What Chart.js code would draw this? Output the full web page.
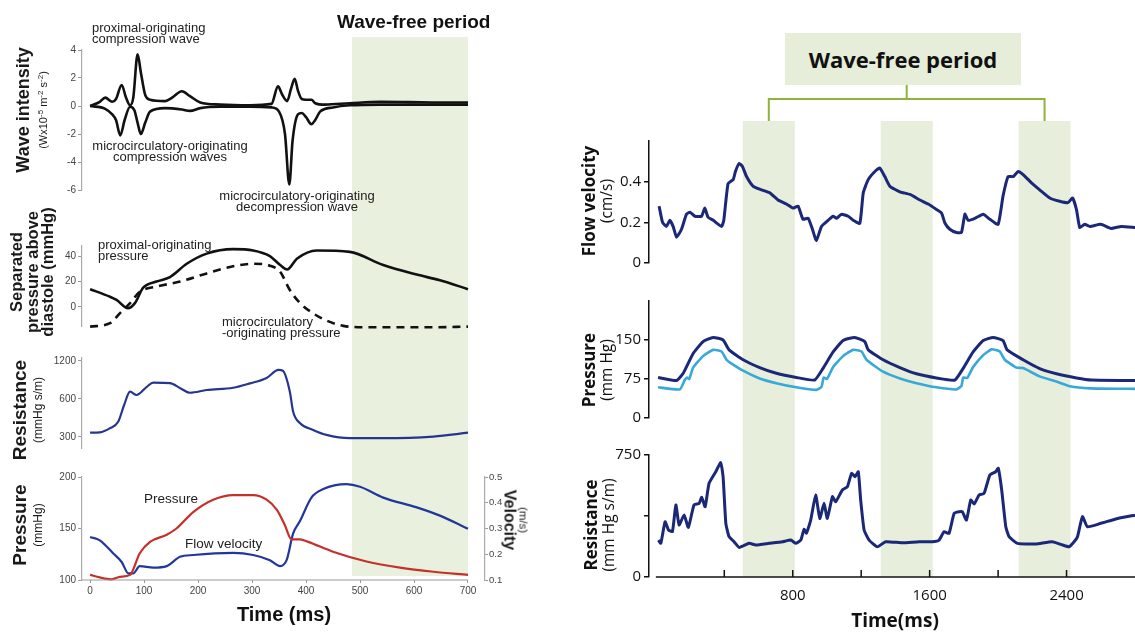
<!DOCTYPE html>
<html>
<head>
<meta charset="utf-8">
<script src="https://cdn.jsdelivr.net/npm/chart.js@4.4.0/dist/chart.umd.min.js"></script>
<style>
body { margin: 0; background: #fff; overflow: hidden; }
#fig { position: relative; width: 1135px; height: 632px; overflow: hidden; font-family: "Liberation Sans", Arial, sans-serif; color: #1a1a1a; }
canvas { position: absolute; }
.note { position: absolute; white-space: nowrap; font-size: 13px; line-height: 11px; color: #222; }
.rot { position: absolute; white-space: nowrap; text-align: center; transform: translate(-50%, -50%) rotate(-90deg); }
.rot90 { position: absolute; white-space: nowrap; text-align: center; transform: translate(-50%, -50%) rotate(90deg); }
.r { font-family: "Open Sans", sans-serif; color: #111; }
</style>
</head>
<body>
<div id="fig">
  <canvas id="lBand"></canvas>
  <canvas id="rBand"></canvas>
  <canvas id="l1"></canvas>
  <canvas id="l2"></canvas>
  <canvas id="l3"></canvas>
  <canvas id="l4"></canvas>
  <canvas id="r1"></canvas>
  <canvas id="r2"></canvas>
  <canvas id="r3"></canvas>

  <!-- left panel text -->
  <div class="note" style="left:337px;top:12px;font-size:19px;font-weight:bold;line-height:20px;color:#111">Wave-free period</div>
  <div class="note" style="left:92px;top:22px">proximal-originating<br>compression wave</div>
  <div class="note" style="left:170px;top:140px;transform:translateX(-50%);text-align:center">microcirculatory-originating<br>compression waves</div>
  <div class="note" style="left:297px;top:190px;transform:translateX(-50%);text-align:center">microcirculatory-originating<br>decompression wave</div>
  <div class="note" style="left:98px;top:239px">proximal-originating<br>pressure</div>
  <div class="note" style="left:222px;top:316px">microcirculatory<br>-originating pressure</div>
  <div class="note" style="left:144px;top:493px;font-size:13.5px">Pressure</div>
  <div class="note" style="left:185px;top:538px;font-size:13.5px">Flow velocity</div>
  <div class="note" style="left:284px;top:604px;transform:translateX(-50%);font-size:20px;font-weight:bold;line-height:20px;color:#111">Time (ms)</div>

  <div class="rot" style="left:33px;top:110px;line-height:16px"><b style="font-size:18px">Wave intensity</b><br><span style="font-size:11px">(Wx10<sup style="font-size:8px">-5</sup> m<sup style="font-size:8px">-2</sup> s<sup style="font-size:8px">-2</sup>)</span></div>
  <div class="rot" style="left:32px;top:272px;line-height:15.5px;font-size:16.5px;font-weight:bold">Separated<br>pressure above<br>diastole (mmHg)</div>
  <div class="rot" style="left:29px;top:410px;line-height:16px"><b style="font-size:19px">Resistance</b><br><span style="font-size:12px">(mmHg s/m)</span></div>
  <div class="rot" style="left:29px;top:525px;line-height:16px"><b style="font-size:19px">Pressure</b><br><span style="font-size:12px">(mmHg)</span></div>
  <div class="rot90" style="left:517px;top:520px;line-height:14px"><span style="font-size:11.5px">(m/s)</span><br><b style="font-size:16px">Velocity</b></div>

  <!-- right panel text -->
  <div class="r" style="position:absolute;left:785px;top:33px;width:236px;height:52px;background:#e6edd8;text-align:center;line-height:52px;font-size:22px;font-weight:bold">Wave-free period</div>
  <div class="rot r" style="left:597px;top:201px;line-height:17px"><b style="font-size:17px">Flow velocity</b><br><span style="font-size:15.5px">(cm/s)</span></div>
  <div class="rot r" style="left:597px;top:370px;line-height:17px"><b style="font-size:17px">Pressure</b><br><span style="font-size:15.5px">(mm Hg)</span></div>
  <div class="rot r" style="left:599px;top:525px;line-height:17px"><b style="font-size:17px">Resistance</b><br><span style="font-size:15.5px">(mm Hg s/m)</span></div>
  <div class="r" style="position:absolute;left:895px;top:609px;transform:translateX(-50%);font-size:19px;font-weight:bold;line-height:22px;white-space:nowrap">Time(ms)</div>
</div>

<script>
// ---- left panel data (time in ms) ----
const waveFwdTime = [0, 18, 28, 41, 48, 58.5, 66.5, 74, 80, 88, 94, 102, 111, 139, 152, 170, 185, 204, 241, 296, 336, 348, 356, 365, 372, 379, 385, 392, 400, 410, 417, 435, 481, 537, 592, 648, 700]
const waveFwd = [0, 0.3, 0.6, 0.3, 0.5, 1.5, 0.6, 0.05, 0.6, 3.7, 2.4, 0.8, 0.45, 0.35, 0.6, 1.05, 0.7, 0.25, 0.1, 0.05, 0.15, 1.4, 0.8, 0.35, 1.2, 1.95, 1.1, 0.5, 0.45, 0.45, 0.2, 0.1, 0.2, 0.3, 0.28, 0.25, 0.25]
const waveBwdTime = [0, 28, 41, 48, 56, 64, 74, 82, 88, 94, 102, 111, 139, 170, 185, 204, 241, 296, 336, 350, 361, 369, 375, 385, 392, 400, 410, 417, 426, 450, 481, 537, 592, 648, 700]
const waveBwd = [0, -0.2, -0.6, -1.0, -2.1, -1.0, -0.05, -0.3, -1.2, -2.0, -1.2, -0.4, -0.15, -0.25, -0.35, -0.15, -0.05, -0.05, -0.1, -0.4, -2.0, -5.6, -2.5, -0.6, -0.5, -0.8, -1.3, -1.0, -0.4, -0.1, 0.05, 0.1, 0.1, 0.1, 0.1]

const proxTime = [0, 37, 49, 70, 83, 98, 123, 148, 179, 216, 265, 302, 333, 352, 365, 383, 420, 481, 543, 605, 648, 700]
const proxPressure = [14, 8, 5.5, -1, 3, 15, 20, 23.5, 34, 42, 45.5, 44.5, 40, 33, 29.5, 38, 44.5, 43.4, 33, 25.5, 21, 14]
const microTime = [0, 37, 55, 74, 92, 123, 167, 216, 265, 302, 333, 352, 370, 389, 413, 438, 469, 512, 636, 700]
const microPressure = [-15.5, -12.8, -5, 3, 12, 16, 20, 26.4, 32, 34, 32.5, 27.7, 13.3, 3, -5, -10.7, -14.9, -16, -16, -15.5]

const resTime = [0, 18, 37, 52, 63, 74, 86, 105, 117, 148, 167, 185, 216, 265, 296, 327, 349, 357, 370, 376, 389, 413, 438, 481, 543, 636, 700]
const resistance = [324, 326, 352, 395, 537, 685, 645, 749, 808, 800, 730, 672, 706, 736, 797, 881, 1020, 1005, 685, 477, 385, 341, 311, 293, 293, 302, 324]

const presTime = [0, 18, 40, 55, 74, 92, 111, 142, 160, 191, 228, 265, 302, 327, 346, 361, 373, 389, 404, 450, 512, 574, 636, 700]
const pressure = [105, 102.5, 100.7, 103, 105, 126, 137, 144, 150, 166, 178, 182.5, 182.5, 178, 168, 153, 139.5, 139.5, 137, 127.5, 118, 112, 108, 105]
const velTime = [0, 18, 43, 58.5, 71, 80, 92, 117, 142, 166.5, 191, 265, 302, 333, 352, 364, 376, 389, 410, 432, 475, 500, 543, 605, 648, 700]
const velocity = [0.267, 0.254, 0.203, 0.17, 0.126, 0.126, 0.154, 0.148, 0.154, 0.19, 0.197, 0.205, 0.197, 0.177, 0.154, 0.177, 0.28, 0.33, 0.42, 0.453, 0.472, 0.462, 0.42, 0.382, 0.35, 0.299]

const leftWaveFree = [[485, 700]]
const waveTicks = [-6, -4, -2, 0, 2, 4]
const sepTicks = [0, 20, 40]
const resTicks = [300, 600, 1200]
const presTicks = [100, 150, 200]
const velTicks = [0.1, 0.2, 0.3, 0.4, 0.5]
const leftTimeTicks = [0, 100, 200, 300, 400, 500, 600, 700]

// ---- right panel data ----
const rVelTime = [19, 39, 62, 82, 101, 121, 150, 179, 199, 228, 267, 286, 305, 335, 384, 397, 422, 452, 465, 487, 506, 530, 569, 617, 666, 714, 763, 802, 831, 860, 890, 915, 938, 968, 1007, 1036, 1056, 1085, 1124, 1153, 1192, 1212, 1241, 1280, 1309, 1338, 1368, 1426, 1485, 1543, 1592, 1640, 1670, 1689, 1718, 1757, 1786, 1806, 1825, 1864, 1913, 1952, 2000, 2029, 2058, 2088, 2117, 2146, 2195, 2243, 2302, 2360, 2409, 2435, 2458, 2477, 2506, 2536, 2600, 2660, 2720, 2800]
const rVelocity = [0.28, 0.20, 0.18, 0.21, 0.18, 0.127, 0.166, 0.24, 0.25, 0.23, 0.23, 0.27, 0.225, 0.21, 0.18, 0.21, 0.39, 0.41, 0.45, 0.49, 0.475, 0.425, 0.377, 0.36, 0.345, 0.31, 0.29, 0.27, 0.28, 0.215, 0.22, 0.166, 0.11, 0.18, 0.21, 0.23, 0.22, 0.24, 0.23, 0.21, 0.195, 0.345, 0.41, 0.45, 0.467, 0.425, 0.377, 0.35, 0.337, 0.31, 0.29, 0.263, 0.245, 0.197, 0.166, 0.15, 0.15, 0.24, 0.21, 0.22, 0.24, 0.215, 0.19, 0.33, 0.425, 0.425, 0.45, 0.435, 0.394, 0.36, 0.32, 0.304, 0.297, 0.32, 0.263, 0.175, 0.19, 0.18, 0.19, 0.17, 0.18, 0.175]

const rPresTimeA = [13, 121, 160, 218, 276, 335, 393, 428, 510, 607, 704, 821, 928, 977, 1036, 1094, 1162, 1221, 1241, 1328, 1426, 1523, 1640, 1747, 1796, 1854, 1913, 1971, 2029, 2053, 2146, 2243, 2341, 2458, 2545, 2800]
const rPressureA = [78, 72, 86, 124, 147, 155, 150, 131, 112, 97, 86, 78, 73, 95.5, 127, 149, 155, 147, 131, 112, 97, 85, 77, 73, 95.5, 127, 149, 155, 149, 131, 112, 95, 85, 77, 73, 72]
const rPresTimeB = [13, 140, 169, 183, 195, 218, 276, 335, 384, 413, 436, 510, 607, 704, 821, 938, 968, 981, 1000, 1036, 1094, 1153, 1202, 1231, 1328, 1426, 1523, 1640, 1757, 1786, 1796, 1820, 1854, 1913, 1962, 2010, 2039, 2107, 2146, 2243, 2341, 2419, 2536, 2800]
const rPressureB = [59, 55, 73, 78, 75, 97, 119, 131, 128, 112, 106, 91, 76, 67, 59, 54, 60, 78, 75, 98, 119, 131, 128, 112, 89, 76, 67, 59, 55, 62, 78, 77, 98, 121, 132, 128, 112, 97, 96, 80, 70, 61, 57, 56]

const rResTime = [15, 29, 54, 74, 97, 117, 136, 165, 190, 223, 253, 268, 288, 311, 350, 379, 393, 409, 428, 457, 487, 545, 584, 662, 740, 789, 818, 847, 866, 880, 905, 934, 958, 983, 1002, 1032, 1051, 1090, 1119, 1144, 1164, 1183, 1197, 1217, 1246, 1295, 1343, 1441, 1538, 1616, 1655, 1684, 1713, 1743, 1772, 1791, 1815, 1840, 1860, 1889, 1918, 1952, 1986, 2001, 2021, 2045, 2064, 2113, 2220, 2317, 2376, 2415, 2444, 2464, 2493, 2522, 2600, 2700, 2800]
const rResistance = [227, 207, 340, 289, 280, 443, 320, 381, 305, 443, 453, 490, 432, 576, 647, 703, 616, 330, 248, 217, 182, 207, 197, 207, 217, 227, 207, 227, 293, 270, 350, 504, 360, 453, 360, 494, 463, 535, 555, 637, 616, 647, 473, 289, 227, 186, 217, 210, 217, 217, 227, 278, 268, 391, 401, 401, 350, 473, 449, 504, 514, 627, 647, 668, 535, 309, 248, 207, 203, 217, 197, 186, 217, 248, 371, 309, 330, 360, 380]

const rightWaveFree = [[508, 812], [1314, 1618], [2120, 2423]]
const rVelTicks = [0, 0.2, 0.4]
const rPresTicks = [0, 75, 150]
const rResTicks = [0, 375, 750]
const rTimeTicks = [400, 800, 1200, 1600, 2000, 2400]

const LFONT = '"Liberation Sans", Arial, sans-serif'
const RFONT = '"Open Sans", sans-serif'
const PAD = 12

const pts = (xs, ys) => xs.map((x, i) => ({ x: x, y: ys[i] }))
const fixTicks = (list) => (s) => { s.ticks = list.map(v => ({ value: v })) }

// shading bands, bracket and partial axis lines
const figPlugin = {
    id: 'fig',
    beforeDatasetsDraw(chart, args, o) {
        if (!o.bands) return
        const { ctx, chartArea: a } = chart
        const x = chart.scales.x
        ctx.save()
        ctx.fillStyle = o.bandColor
        o.bands.forEach(([s, e]) => {
            const x0 = x.getPixelForValue(s), x1 = x.getPixelForValue(e)
            ctx.fillRect(x0, a.top, x1 - x0, a.bottom - a.top)
        })
        ctx.restore()
    },
    afterDraw(chart, args, o) {
        const { ctx, chartArea: a } = chart
        const x = chart.scales.x
        ctx.save()
        if (o.bracket) {
            const c = o.bands.map(([s, e]) => x.getPixelForValue((s + e) / 2))
            const first = c[0], last = c[c.length - 1]
            const yH = a.top - 22, yS = a.top - 36
            ctx.strokeStyle = o.bracket
            ctx.lineWidth = 2
            ctx.beginPath()
            ctx.moveTo(first, a.top); ctx.lineTo(first, yH); ctx.lineTo(last, yH); ctx.lineTo(last, a.top)
            ctx.moveTo((first + last) / 2, yH); ctx.lineTo((first + last) / 2, yS)
            ctx.stroke()
        }
        if (o.axisSpan) {
            ctx.strokeStyle = o.axisColor
            ctx.lineWidth = o.axisWidth
            ctx.beginPath()
            ctx.moveTo(x.getPixelForValue(o.axisSpan[0]), a.bottom)
            ctx.lineTo(x.getPixelForValue(o.axisSpan[1]), a.bottom)
            ctx.stroke()
        }
        if (o.inTicks) {
            ctx.beginPath()
            x.ticks.forEach(t => {
                const px = x.getPixelForValue(t.value)
                ctx.moveTo(px, a.bottom); ctx.lineTo(px, a.bottom - o.inTicks)
            })
            ctx.stroke()
        }
        ctx.restore()
    }
}
Chart.register(figPlugin)

// size and place a canvas so that its chart area lands on the given page box
function place(id, box, yW, yRW, xH, padTop) {
    const c = document.getElementById(id)
    const pt = padTop === undefined ? PAD : padTop
    c.width = box[2] - box[0] + yW + yRW + 2 * PAD
    c.height = box[3] - box[1] + xH + pt + PAD
    c.style.left = (box[0] - yW - PAD) + 'px'
    c.style.top = (box[1] - pt) + 'px'
    return c
}

function baseOptions(xMin, xMax, pt) {
    return {
        responsive: false,
        animation: false,
        events: [],
        layout: { padding: { left: PAD, right: PAD, top: pt === undefined ? PAD : pt, bottom: PAD } },
        plugins: { legend: { display: false }, tooltip: { enabled: false } },
        elements: { point: { radius: 0 } },
        scales: {
            x: { type: 'linear', min: xMin, max: xMax, display: false }
        }
    }
}

function leftY(min, max, ticks, type) {
    return {
        type: type || 'linear', min: min, max: max, position: 'left',
        afterFit: s => { s.width = 40 },
        afterBuildTicks: fixTicks(ticks),
        grid: { drawOnChartArea: false, tickLength: 4, color: '#999' },
        border: { color: '#aaa', width: 1.2 },
        ticks: { font: { size: 10, family: LFONT }, color: '#444', padding: 2, autoSkip: false, callback: v => String(v) }
    }
}

function rightY(min, max, ticks, labelFn) {
    return {
        type: 'linear', min: min, max: max, position: 'left',
        afterFit: s => { s.width = 48 },
        afterBuildTicks: fixTicks(ticks),
        grid: { drawOnChartArea: false, tickLength: 5, color: '#111', lineWidth: 1.5 },
        border: { color: '#111', width: 1.5 },
        ticks: { font: { size: 15, family: RFONT }, color: '#111', padding: 3, autoSkip: false, callback: labelFn || (v => String(v)) }
    }
}

const line = (data, color, width, extra) => Object.assign({
    data: data, borderColor: color, borderWidth: width, fill: false,
    cubicInterpolationMode: 'monotone', pointRadius: 0, clip: 8
}, extra || {})

function drawLeft() {
    const xMin = -15
    // shading behind the left column
    place('lBand', [82, 37, 468, 576], 0, 0, 0)
    const ob = baseOptions(xMin, 700)
    ob.scales.y = { display: false, min: 0, max: 1 }
    ob.plugins.fig = { bands: leftWaveFree, bandColor: '#e9f0de' }
    new Chart(document.getElementById('lBand'), { type: 'line', data: { datasets: [] }, options: ob })

    // wave intensity
    const c1 = place('l1', [82, 50, 468, 190], 40, 0, 0)
    const o1 = baseOptions(xMin, 700)
    o1.scales.y = leftY(-6, 4, waveTicks)
    new Chart(c1, { type: 'line', data: { datasets: [
        line(pts(waveFwdTime, waveFwd), '#111', 2.6),
        line(pts(waveBwdTime, waveBwd), '#111', 2.6)
    ] }, options: o1 })

    // separated pressure
    const c2 = place('l2', [82, 246, 468, 326], 40, 0, 0)
    const o2 = baseOptions(xMin, 700)
    o2.scales.y = leftY(-15, 48, sepTicks)
    new Chart(c2, { type: 'line', data: { datasets: [
        line(pts(proxTime, proxPressure), '#111', 2.6),
        line(pts(microTime, microPressure), '#111', 2.6, { borderDash: [8, 6] })
    ] }, options: o2 })

    // resistance (log axis)
    const c3 = place('l3', [82, 358, 468, 448], 40, 0, 0)
    const o3 = baseOptions(xMin, 700)
    o3.scales.y = leftY(245, 1267, resTicks, 'logarithmic')
    new Chart(c3, { type: 'line', data: { datasets: [
        line(pts(resTime, resistance), '#26368f', 2.2)
    ] }, options: o3 })

    // pressure and velocity
    const xMax4 = xMin + (485 - 82) / (386 / 715)
    const c4 = place('l4', [82, 477, 485, 580], 40, 26, 18)
    const o4 = baseOptions(xMin, xMax4)
    o4.scales.x = {
        type: 'linear', min: xMin, max: xMax4, position: 'bottom',
        afterFit: s => { s.height = 18 },
        afterBuildTicks: fixTicks(leftTimeTicks),
        grid: { drawOnChartArea: false, tickLength: 3, color: '#999' },
        border: { display: false },
        ticks: { font: { size: 10, family: LFONT }, color: '#444', padding: 2, autoSkip: false, maxRotation: 0 }
    }
    o4.scales.y = leftY(100, 200, presTicks)
    const yR = leftY(0.1, 0.5, velTicks)
    yR.position = 'right'
    yR.afterFit = s => { s.width = 26 }
    yR.grid.tickLength = 3
    yR.ticks.padding = 1
    yR.ticks.font = { size: 9.5, family: LFONT }
    o4.scales.y1 = yR
    o4.plugins.fig = { axisSpan: [xMin, 700], axisColor: '#999', axisWidth: 1.2 }
    new Chart(c4, { type: 'line', data: { datasets: [
        line(pts(presTime, pressure), '#c5302b', 2.2, { yAxisID: 'y' }),
        line(pts(velTime, velocity), '#22379a', 2.2, { yAxisID: 'y1' })
    ] }, options: o4 })
}

function drawRight() {
    const xMin = -40, xMax = 2800
    // shading + bracket behind the right column
    place('rBand', [649, 121, 1135, 577], 0, 0, 0, 41)
    const ob = baseOptions(xMin, xMax, 41)
    ob.scales.y = { display: false, min: 0, max: 1 }
    ob.plugins.fig = { bands: rightWaveFree, bandColor: '#e7eedb', bracket: '#8db33a' }
    new Chart(document.getElementById('rBand'), { type: 'line', data: { datasets: [] }, options: ob })

    const navy = '#1b2878'
    const jag = { cubicInterpolationMode: 'default', tension: 0.15 }

    const c1 = place('r1', [649, 141, 1135, 263], 48, 0, 0)
    const o1 = baseOptions(xMin, xMax)
    o1.scales.y = rightY(0, 0.6, rVelTicks)
    new Chart(c1, { type: 'line', data: { datasets: [
        line(pts(rVelTime, rVelocity), navy, 3, jag)
    ] }, options: o1 })

    const c2 = place('r2', [649, 301, 1135, 418], 48, 0, 0)
    const o2 = baseOptions(xMin, xMax)
    o2.scales.y = rightY(0, 225, rPresTicks)
    new Chart(c2, { type: 'line', data: { datasets: [
        line(pts(rPresTimeB, rPressureB), '#37a8d8', 2.6, jag),
        line(pts(rPresTimeA, rPressureA), navy, 3, jag)
    ] }, options: o2 })

    const c3 = place('r3', [649, 455, 1135, 577], 48, 0, 36)
    const o3 = baseOptions(xMin, xMax)
    o3.scales.y = rightY(0, 750, rResTicks, v => (v === 375 ? '' : String(v)))
    o3.scales.x = {
        type: 'linear', min: xMin, max: xMax, position: 'bottom',
        afterFit: s => { s.height = 36 },
        afterBuildTicks: fixTicks(rTimeTicks),
        grid: { display: false, drawTicks: false },
        border: { display: false },
        ticks: { font: { size: 15, family: RFONT }, color: '#111', padding: 10, autoSkip: false, maxRotation: 0,
            callback: v => (v % 800 === 0 ? String(v) : '') }
    }
    o3.plugins.fig = { axisSpan: [0, xMax], axisColor: '#111', axisWidth: 1.5, inTicks: 7 }
    new Chart(c3, { type: 'line', data: { datasets: [
        line(pts(rResTime, rResistance), navy, 3, jag)
    ] }, options: o3 })
}

document.addEventListener('DOMContentLoaded', () => {
    drawLeft()
    drawRight()
})
</script>
</body>
</html>
